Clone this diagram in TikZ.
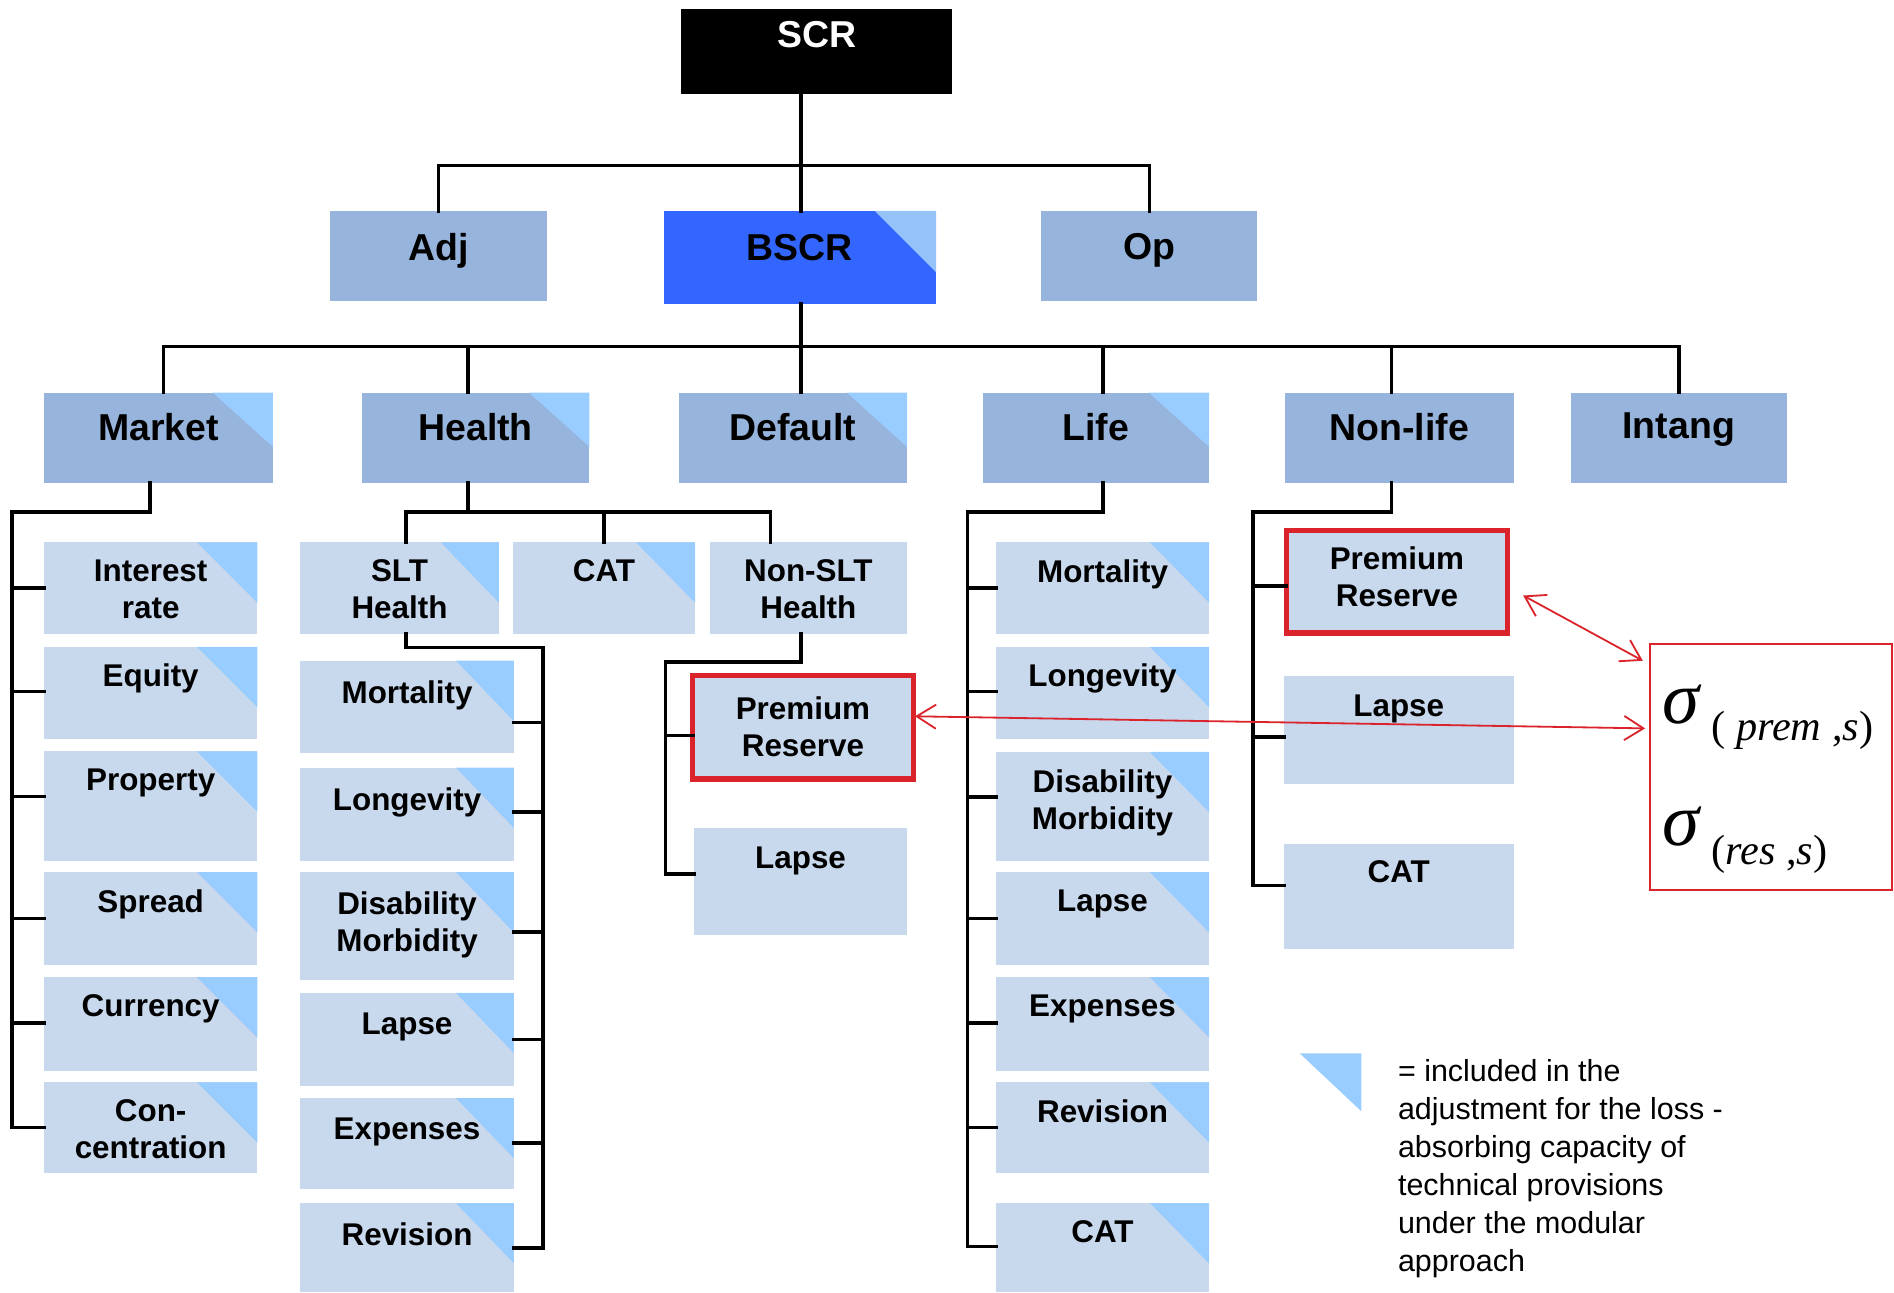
\documentclass[tikz,border=0pt]{standalone}
\usepackage{fontspec}
\setmainfont{Liberation Sans}
\newfontfamily\sigserif{Liberation Serif}
\usetikzlibrary{arrows.meta}
\definecolor{midblue}{RGB}{151,180,220}
\definecolor{subblue}{RGB}{200,216,237}
\definecolor{triblue}{RGB}{153,204,255}
\definecolor{bscrblue}{RGB}{51,102,255}
\definecolor{bscrtri}{RGB}{150,196,250}
\definecolor{hired}{RGB}{218,35,42}
\newcommand\mkbox[6]{\node[boxshape,fill=#6,minimum width={(#4-#2)*0.5pt},minimum height={(#5-#3)*0.5pt}] (#1) at (#2,#3) {};}
\newcommand\mktri[4][triblue]{\fill[#1] (#2.north east) -- ++(-#3,0) -- ++(#3,#4) -- cycle;}
\newcommand\mktxt[4]{\node[#4,anchor=north,inner sep=0pt,align=center] (#1-t) at ([shift={(0,#2)}]#1.north) {#3};}
\newcommand\tickL[3]{\coordinate (#1-tk) at ([shift={(0,#3)}]#1.west); \draw[conn] (#1-tk) -- (#1-tk -| #2);}
\newcommand\tickR[3]{\coordinate (#1-tk) at ([shift={(0,#3)}]#1.east); \draw[conn] (#1-tk) -- (#1-tk -| #2);}
\begin{document}
\begin{tikzpicture}[x=0.5pt,y=-0.5pt,
  boxshape/.style={rectangle,inner sep=0pt,outer sep=0pt,anchor=north west,draw=none},
  conn/.style={line width=1.5pt,black,line cap=rect,line join=miter},
  midtxt/.style={font=\fontsize{15.5pt}{19pt}\selectfont\bfseries,text=black},
  subtxt/.style={font=\fontsize{13pt}{15.3pt}\selectfont\bfseries,text=black},
  redbox/.style={draw=hired,line width=2.2pt},
  redarr/.style={draw=hired,line width=0.75pt,{Straight Barb[length=8pt,width=10pt]}-{Straight Barb[length=8pt,width=10pt]}},
  sigbig/.style={anchor=base west,inner sep=0pt,font=\sigserif\fontsize{31pt}{31pt}\selectfont\itshape},
  sigsub/.style={anchor=base west,inner sep=0pt,font=\sigserif\fontsize{17.5pt}{17.5pt}\selectfont},
]
\useasboundingbox (0,0) rectangle (1568,1070);
% ---------- top levels
\mkbox{SCR}{563.5}{7.5}{788.5}{78}{black}
\mkbox{Adj}{273}{174.5}{453}{249.5}{midblue}
\mkbox{BSCR}{549.5}{174.5}{775}{251.5}{bscrblue}
\mktri[bscrtri]{BSCR}{51}{51}
\mkbox{Op}{862}{174.5}{1041}{249.5}{midblue}
\mkbox{Market}{36.5}{325}{226}{400}{midblue}\mktri{Market}{50}{45}
\mkbox{Health}{299.5}{325}{488}{400}{midblue}\mktri{Health}{50}{45}
\mkbox{Default}{562}{325}{751}{400}{midblue}\mktri{Default}{50}{45}
\mkbox{Life}{813.5}{325}{1001}{400}{midblue}\mktri{Life}{50}{45}
\mkbox{NonLife}{1064}{325}{1253}{400}{midblue}
\mkbox{Intang}{1300.5}{325}{1479}{400}{midblue}
% ---------- market children
\mkbox{MInt}{36.5}{449}{213}{525}{subblue}\mktri{MInt}{50}{50}
\mkbox{MEq}{36.5}{535.5}{213}{611.5}{subblue}\mktri{MEq}{50}{50}
\mkbox{MProp}{36.5}{622}{213}{713}{subblue}\mktri{MProp}{50}{50}
\mkbox{MSpr}{36.5}{722}{213}{799}{subblue}\mktri{MSpr}{50}{50}
\mkbox{MCur}{36.5}{809}{213}{887}{subblue}\mktri{MCur}{50}{50}
\mkbox{MCon}{36.5}{896}{213}{971}{subblue}\mktri{MCon}{50}{50}
% ---------- health children
\mkbox{HSLT}{248.5}{449}{413}{525}{subblue}\mktri{HSLT}{48}{50}
\mkbox{HCAT}{424.5}{449}{575.5}{525}{subblue}\mktri{HCAT}{49}{50}
\mkbox{HNSLT}{587.5}{449}{751}{525}{subblue}
\mkbox{SMort}{248.5}{547}{425.5}{623}{subblue}\mktri{SMort}{48}{50}
\mkbox{SLong}{248.5}{635.5}{425.5}{712.5}{subblue}\mktri{SLong}{48}{50}
\mkbox{SDis}{248.5}{722}{425.5}{811}{subblue}\mktri{SDis}{48}{50}
\mkbox{SLap}{248.5}{822}{425.5}{899}{subblue}\mktri{SLap}{48}{50}
\mkbox{SExp}{248.5}{909}{425.5}{984}{subblue}\mktri{SExp}{48}{50}
\mkbox{SRev}{248.5}{996}{425.5}{1070}{subblue}\mktri{SRev}{48}{50}
\mkbox{NPR}{573.5}{559}{756}{645}{subblue,redbox}
\mkbox{NLap}{574.5}{685.5}{751}{774}{subblue}
% ---------- life children
\mkbox{LMort}{824.5}{449}{1001}{525}{subblue}\mktri{LMort}{49}{50}
\mkbox{LLong}{824.5}{535.5}{1001}{611.5}{subblue}\mktri{LLong}{49}{50}
\mkbox{LDis}{824.5}{622.5}{1001}{713}{subblue}\mktri{LDis}{49}{50}
\mkbox{LLap}{824.5}{722}{1001}{799}{subblue}\mktri{LLap}{49}{50}
\mkbox{LExp}{824.5}{809}{1001}{887}{subblue}\mktri{LExp}{49}{50}
\mkbox{LRev}{824.5}{896}{1001}{971}{subblue}\mktri{LRev}{49}{50}
\mkbox{LCAT}{824.5}{996}{1001}{1070}{subblue}\mktri{LCAT}{49}{50}
% ---------- non-life children
\mkbox{NLPR}{1065}{439}{1248}{524}{subblue,redbox}
\mkbox{NLLap}{1063}{560}{1253}{649}{subblue}
\mkbox{NLCAT}{1063}{699}{1253}{786}{subblue}
% ---------- texts
\mktxt{SCR}{10}{SCR}{midtxt,text=white}
\mktxt{Adj}{18}{Adj}{midtxt}
\mktxt{BSCR}{19}{BSCR}{midtxt}
\mktxt{Op}{18}{Op}{midtxt}
\mktxt{Market}{16.6}{Market}{midtxt}
\mktxt{Health}{16.6}{Health}{midtxt}
\mktxt{Default}{16.6}{Default}{midtxt}
\mktxt{Life}{16.6}{Life}{midtxt}
\mktxt{NonLife}{16.6}{Non-life}{midtxt}
\mktxt{Intang}{16.6}{Intang}{midtxt}
\mktxt{MInt}{14}{Interest\\rate}{subtxt}
\mktxt{MEq}{14}{Equity}{subtxt}
\mktxt{MProp}{14}{Property}{subtxt}
\mktxt{MSpr}{14}{Spread}{subtxt}
\mktxt{MCur}{14}{Currency}{subtxt}
\mktxt{MCon}{14}{Con-\\centration}{subtxt}
\mktxt{HSLT}{14}{SLT\\Health}{subtxt}
\mktxt{HCAT}{14}{CAT}{subtxt}
\mktxt{HNSLT}{14}{Non-SLT\\Health}{subtxt}
\mktxt{SMort}{16}{Mortality}{subtxt}
\mktxt{SLong}{16}{Longevity}{subtxt}
\mktxt{SDis}{16}{Disability\\Morbidity}{subtxt}
\mktxt{SLap}{16}{Lapse}{subtxt}
\mktxt{SExp}{16}{Expenses}{subtxt}
\mktxt{SRev}{16}{Revision}{subtxt}
\mktxt{NPR}{17.5}{Premium\\Reserve}{subtxt}
\mktxt{NLap}{15}{Lapse}{subtxt}
\mktxt{LMort}{14}{Mortality}{subtxt}
\mktxt{LLong}{14}{Longevity}{subtxt}
\mktxt{LDis}{14}{Disability\\Morbidity}{subtxt}
\mktxt{LLap}{14}{Lapse}{subtxt}
\mktxt{LExp}{14}{Expenses}{subtxt}
\mktxt{LRev}{14}{Revision}{subtxt}
\mktxt{LCAT}{14}{CAT}{subtxt}
\mktxt{NLPR}{13}{Premium\\Reserve}{subtxt}
\mktxt{NLLap}{15}{Lapse}{subtxt}
\mktxt{NLCAT}{13}{CAT}{subtxt}
% ---------- connectors top
\coordinate (b1) at (663,137);
\draw[conn] (b1 |- SCR.south) -- (b1 |- BSCR.north);
\draw[conn] (Adj.north) |- (b1) -| (Op.north);
\coordinate (b2) at (663,287);
\draw[conn] (b2 |- BSCR.south) -- (b2);
\foreach \n/\x in {Market/135.5,Health/387.5,Default/663,Life/913,NonLife/1152,Intang/1390}{
  \coordinate (d\n) at (\x,287);
  \draw[conn] (d\n) -- (d\n |- \n.north);
}
\draw[conn] (dMarket) -- (dIntang);
% ---------- market
\coordinate (mA) at (124,424); \coordinate (mS) at (10,424);
\tickL{MInt}{mS}{0}\tickL{MEq}{mS}{-1}\tickL{MProp}{mS}{-8}
\tickL{MSpr}{mS}{0}\tickL{MCur}{mS}{-1}\tickL{MCon}{mS}{0}
\draw[conn] (mA |- Market.south) -- (mA) -- (mS) -- (mS |- MCon-tk);
% ---------- health
\coordinate (hA) at (387.5,424); \coordinate (hL) at (336,424); \coordinate (hR) at (638,424);
\draw[conn] (hA |- Health.south) -- (hA);
\draw[conn] (hL |- HSLT.north) -- (hL) -- (hR) -- (hR |- HNSLT.north);
\draw[conn] (HCAT.north) -- (HCAT.north |- hA);
\coordinate (sA) at (336,536); \coordinate (sS) at (449.5,536);
\tickR{SMort}{sS}{13}\tickR{SLong}{sS}{-2}\tickR{SDis}{sS}{5}
\tickR{SLap}{sS}{0}\tickR{SExp}{sS}{0}\tickR{SRev}{sS}{0}
\draw[conn] (sA |- HSLT.south) -- (sA) -- (sS) -- (sS |- SRev-tk);
\coordinate (nA) at (663,548); \coordinate (nS) at (551,548);
\tickL{NPR}{nS}{7}\tickL{NLap}{nS}{-6}
\draw[conn] (nA |- HNSLT.south) -- (nA) -- (nS) -- (nS |- NLap-tk);
% ---------- life
\coordinate (lA) at (913,424); \coordinate (lS) at (801,424);
\tickL{LMort}{lS}{0}\tickL{LLong}{lS}{-1}\tickL{LDis}{lS}{-8}\tickL{LLap}{lS}{0}
\tickL{LExp}{lS}{-1}\tickL{LRev}{lS}{0}\tickL{LCAT}{lS}{-1}
\draw[conn] (lA |- Life.south) -- (lA) -- (lS) -- (lS |- LCAT-tk);
% ---------- non-life
\coordinate (nlA) at (1152,424); \coordinate (nlS) at (1037.5,424);
\tickL{NLPR}{nlS}{3.5}\tickL{NLLap}{nlS}{5.5}\tickL{NLCAT}{nlS}{-9.5}
\draw[conn] (nlA |- NonLife.south) -- (nlA) -- (nlS) -- (nlS |- NLCAT-tk);
% ---------- sigma box
\node[boxshape,draw=hired,line width=0.9pt,minimum width=100pt,minimum height=102pt] (Sig) at (1366,533) {};
\node[sigbig] (SigA) at (1376,599) {σ};
\node[sigsub] (SigAsub) at (1416.5,613) {( \textit{prem} ,\textit{s})};
\node[sigbig] (SigB) at (1376,700) {σ};
\node[sigsub] (SigBsub) at (1416.5,716) {(\textit{res} ,\textit{s})};
\draw[redarr] ([shift={(13,11.5)}]NLPR.east) -- ([shift={(-6,14)}]Sig.north west);
\draw[redarr] ([shift={(1.5,-9)}]NPR.east) -- ([shift={(-4,-32)}]Sig.west);
% ---------- legend
\fill[triblue] (1076,872) -- (1127,872) -- (1127,920) -- cycle;
\node[anchor=north west,inner sep=0pt,align=left,font=\fontsize{12.6pt}{15.66pt}\selectfont] (Leg) at (1157,877)
  {= included in the\\adjustment for the loss -\\absorbing capacity of\\technical provisions\\under the modular\\approach};
\end{tikzpicture}
\end{document}
